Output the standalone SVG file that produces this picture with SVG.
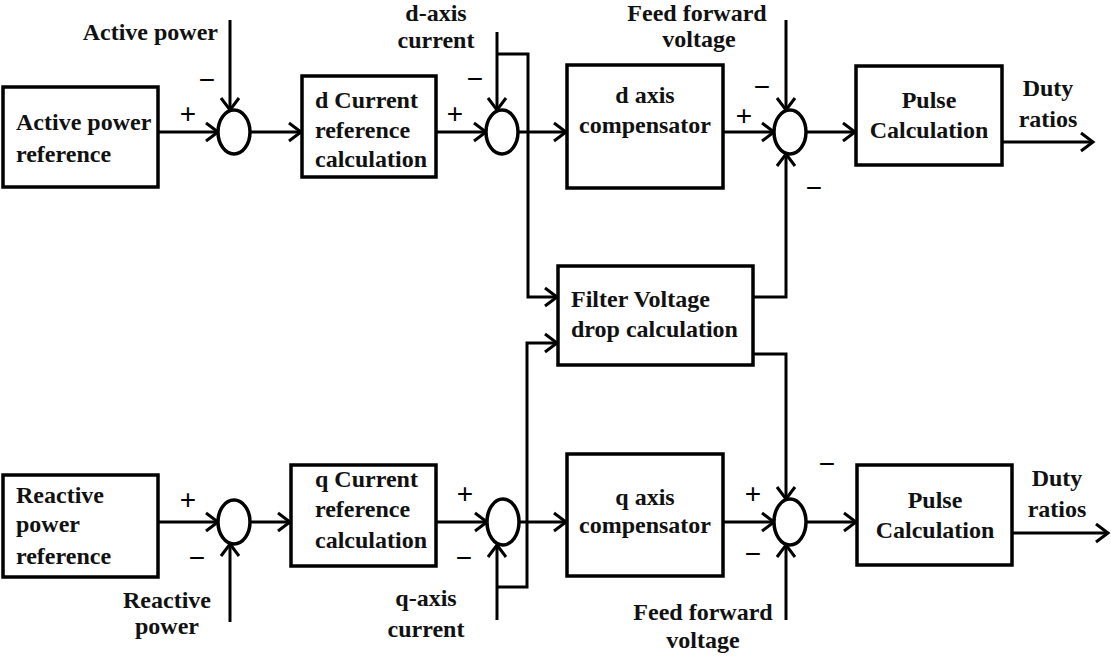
<svg xmlns="http://www.w3.org/2000/svg" width="1111" height="656" viewBox="0 0 1111 656">
<style>
.box{fill:#fff;stroke:#000;stroke-width:3.5}
.sum{fill:#fff;stroke:#000;stroke-width:3.5}
.wire{fill:none;stroke:#000;stroke-width:3}
.t{font-family:"Liberation Serif","Times New Roman",serif;font-weight:bold;font-size:24px;fill:#111}
.c{text-anchor:middle}
.s{font-family:"Liberation Sans",Arial,sans-serif;font-size:28px;fill:#000;text-anchor:middle}
</style>
<defs>
<marker id="ah" markerUnits="userSpaceOnUse" markerWidth="18" markerHeight="22" refX="15" refY="11" orient="auto">
<path d="M3,2 L15,11 L3,20" fill="none" stroke="#000" stroke-width="3"/>
</marker>
</defs>
<rect width="1111" height="656" fill="#fff"/>
<g id="connectors">
<path class="wire" d="M158,132 H218" marker-end="url(#ah)"/>
<path class="wire" d="M230,20 V110" marker-end="url(#ah)"/>
<path class="wire" d="M250,132 H301" marker-end="url(#ah)"/>
<path class="wire" d="M436,132 H486" marker-end="url(#ah)"/>
<path class="wire" d="M497,32 V110" marker-end="url(#ah)"/>
<path class="wire" d="M497,54 H528 V297 H557" marker-end="url(#ah)"/>
<path class="wire" d="M518,132 H566" marker-end="url(#ah)"/>
<path class="wire" d="M723,132 H774" marker-end="url(#ah)"/>
<path class="wire" d="M786,20 V110" marker-end="url(#ah)"/>
<path class="wire" d="M753,297 H786 V154" marker-end="url(#ah)"/>
<path class="wire" d="M806,132 H855" marker-end="url(#ah)"/>
<path class="wire" d="M1002,142 H1093" marker-end="url(#ah)"/>
<path class="wire" d="M497,587 H527 V343 H557" marker-end="url(#ah)"/>
<path class="wire" d="M753,354 H786 V499" marker-end="url(#ah)"/>
<path class="wire" d="M158,522 H218" marker-end="url(#ah)"/>
<path class="wire" d="M230,622 V544" marker-end="url(#ah)"/>
<path class="wire" d="M250,522 H290" marker-end="url(#ah)"/>
<path class="wire" d="M436,522 H487" marker-end="url(#ah)"/>
<path class="wire" d="M497,620 V545" marker-end="url(#ah)"/>
<path class="wire" d="M519,522 H566" marker-end="url(#ah)"/>
<path class="wire" d="M723,522 H774" marker-end="url(#ah)"/>
<path class="wire" d="M786,620 V545" marker-end="url(#ah)"/>
<path class="wire" d="M806,522 H856" marker-end="url(#ah)"/>
<path class="wire" d="M1012,533 H1108" marker-end="url(#ah)"/>
</g>
<g id="labels">
<text class="t" x="218" y="40" text-anchor="end">Active power</text>
<text class="t c" x="436" y="21">d-axis</text>
<text class="t c" x="436" y="48">current</text>
<text class="t c" x="697" y="21">Feed forward</text>
<text class="t c" x="699" y="47">voltage</text>
<text class="t c" x="1048" y="96">Duty</text>
<text class="t c" x="1048" y="127">ratios</text>
<text class="t c" x="167" y="608">Reactive</text>
<text class="t c" x="167" y="634">power</text>
<text class="t c" x="426" y="606">q-axis</text>
<text class="t c" x="426" y="637">current</text>
<text class="t c" x="703" y="620">Feed forward</text>
<text class="t c" x="703" y="648">voltage</text>
<text class="t c" x="1057" y="486">Duty</text>
<text class="t c" x="1057" y="517">ratios</text>
<text class="s" x="207" y="89">−</text>
<text class="s" x="188" y="123">+</text>
<text class="s" x="475" y="88">−</text>
<text class="s" x="455" y="123">+</text>
<text class="s" x="762" y="96">−</text>
<text class="s" x="744" y="125">+</text>
<text class="s" x="814" y="197">−</text>
<text class="s" x="188" y="509">+</text>
<text class="s" x="197" y="567">−</text>
<text class="s" x="465" y="503">+</text>
<text class="s" x="464" y="567">−</text>
<text class="s" x="827" y="473">−</text>
<text class="s" x="753" y="503">+</text>
<text class="s" x="753" y="563">−</text>
</g>
<g id="active-ref"><rect class="box" x="3" y="87" width="155" height="100"/>
<text class="t" x="16" y="130">Active power</text><text class="t" x="16" y="162">reference</text></g>
<g id="sum-p"><ellipse class="sum" cx="234" cy="132" rx="16" ry="22"/></g>
<g id="d-current"><rect class="box" x="302" y="76" width="134" height="101"/>
<text class="t" x="315" y="108">d Current</text><text class="t" x="315" y="138">reference</text><text class="t" x="315" y="167">calculation</text></g>
<g id="sum-d"><ellipse class="sum" cx="502" cy="132" rx="16" ry="22"/></g>
<g id="d-comp"><rect class="box" x="567" y="65" width="156" height="123"/>
<text class="t c" x="645" y="103">d axis</text><text class="t c" x="645" y="133">compensator</text></g>
<g id="sum-vd"><ellipse class="sum" cx="790" cy="132" rx="16" ry="22"/></g>
<g id="pulse-d"><rect class="box" x="856" y="66" width="146" height="99"/>
<text class="t c" x="929" y="108">Pulse</text><text class="t c" x="929" y="138">Calculation</text></g>
<g id="filter"><rect class="box" x="558" y="266" width="195" height="99"/>
<text class="t" x="571" y="307">Filter Voltage</text><text class="t" x="571" y="337">drop calculation</text></g>
<g id="reactive-ref"><rect class="box" x="3" y="475" width="155" height="102"/>
<text class="t" x="16" y="503">Reactive</text><text class="t" x="16" y="532">power</text><text class="t" x="16" y="564">reference</text></g>
<g id="sum-q"><ellipse class="sum" cx="234" cy="522" rx="16" ry="22"/></g>
<g id="q-current"><rect class="box" x="291" y="465" width="145" height="101"/>
<text class="t" x="315" y="487">q Current</text><text class="t" x="315" y="517">reference</text><text class="t" x="315" y="548">calculation</text></g>
<g id="sum-iq"><ellipse class="sum" cx="503" cy="522" rx="16" ry="23"/></g>
<g id="q-comp"><rect class="box" x="567" y="454" width="156" height="122"/>
<text class="t c" x="645" y="505">q axis</text><text class="t c" x="645" y="533">compensator</text></g>
<g id="sum-vq"><ellipse class="sum" cx="790" cy="522" rx="16" ry="23"/></g>
<g id="pulse-q"><rect class="box" x="857" y="465" width="155" height="100"/>
<text class="t c" x="935" y="508">Pulse</text><text class="t c" x="935" y="538">Calculation</text></g>
</svg>
